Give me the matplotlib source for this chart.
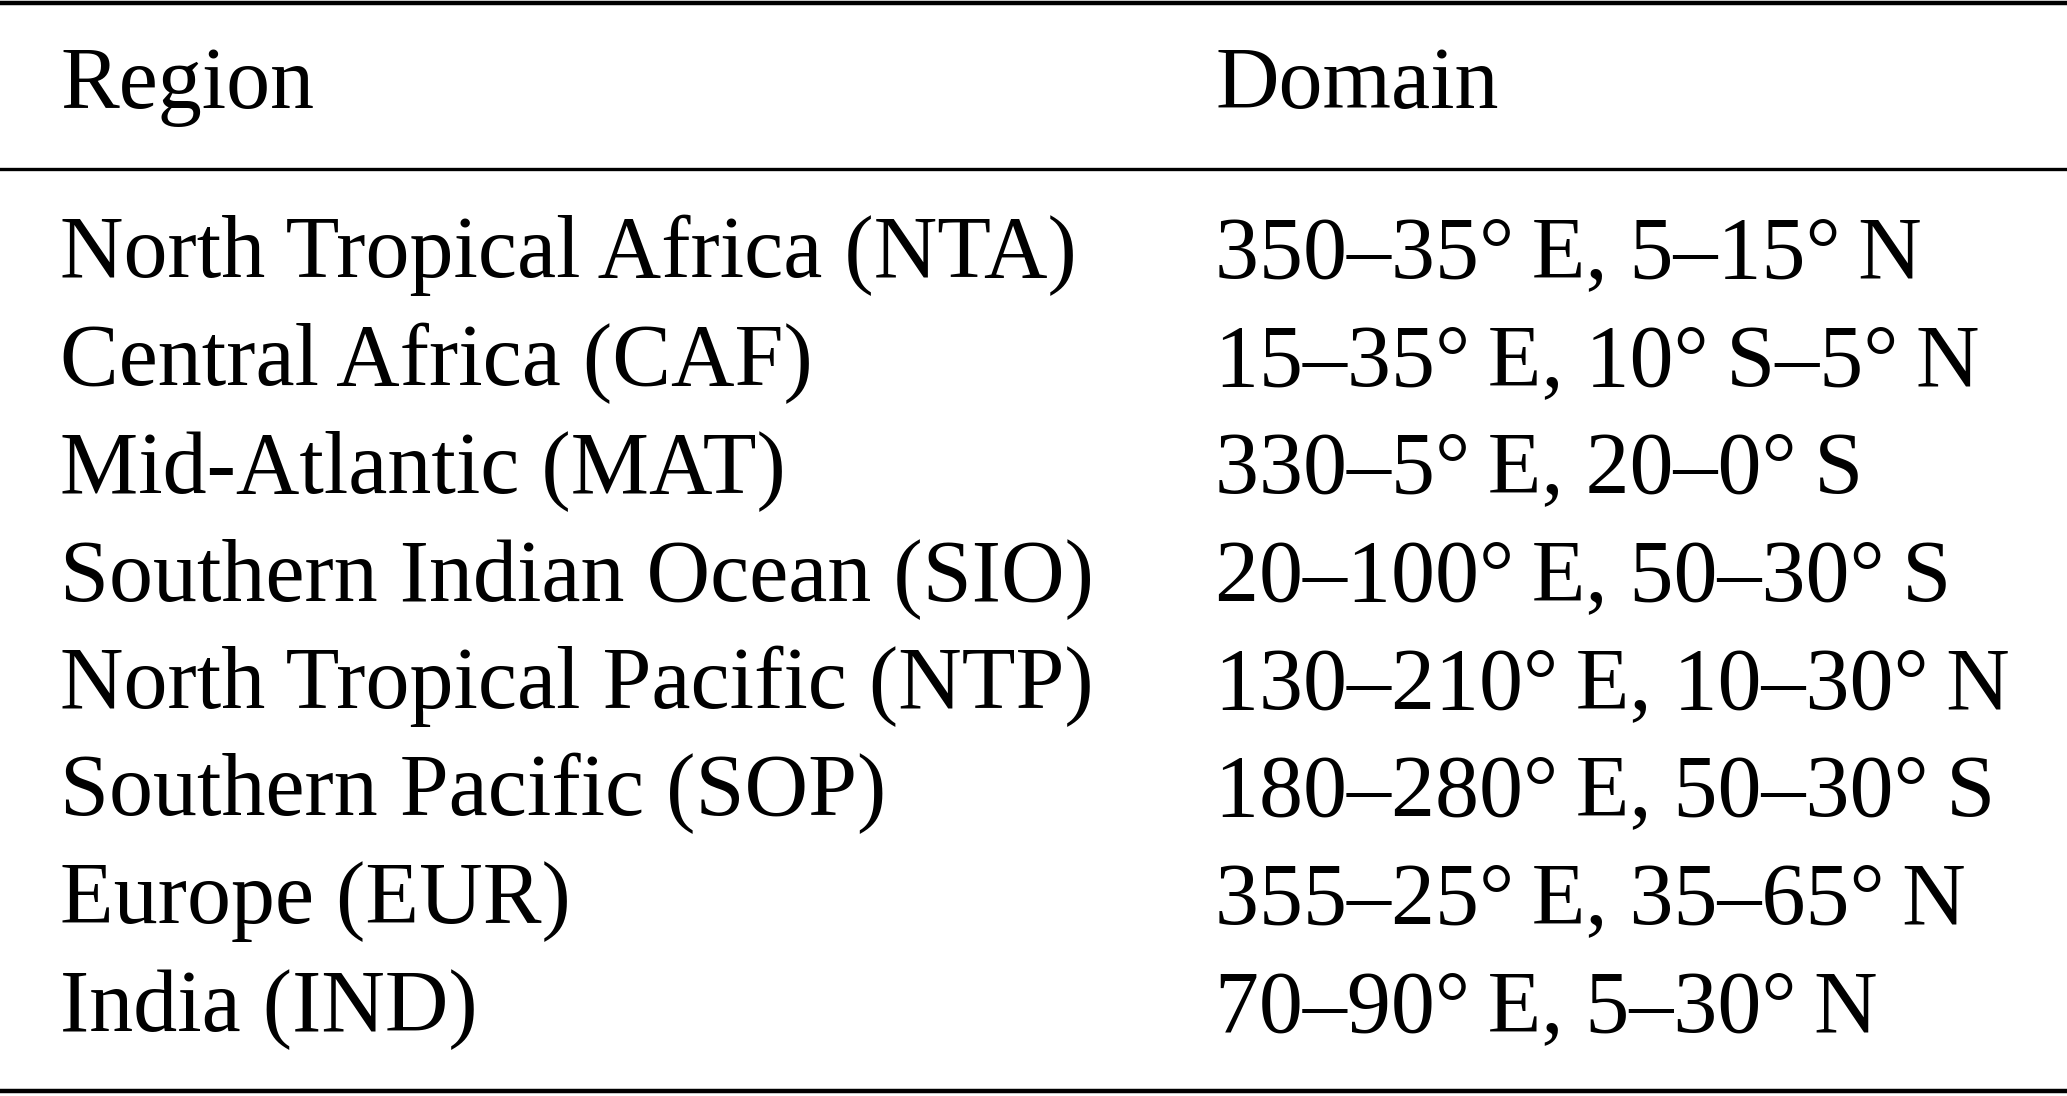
import matplotlib
matplotlib.use("Agg")
import matplotlib.pyplot as plt

# ============================================================
# Table data
# ============================================================

headers = ["Region", "Domain"]

regions = [
    "North Tropical Africa (NTA)",
    "Central Africa (CAF)",
    "Mid-Atlantic (MAT)",
    "Southern Indian Ocean (SIO)",
    "North Tropical Pacific (NTP)",
    "Southern Pacific (SOP)",
    "Europe (EUR)",
    "India (IND)",
]

domains = [
    "350\u201335\u00b0\u2009E, 5\u201315\u00b0\u2009N",
    "15\u201335\u00b0\u2009E, 10\u00b0\u2009S\u20135\u00b0\u2009N",
    "330\u20135\u00b0\u2009E, 20\u20130\u00b0\u2009S",
    "20\u2013100\u00b0\u2009E, 50\u201330\u00b0\u2009S",
    "130\u2013210\u00b0\u2009E, 10\u201330\u00b0\u2009N",
    "180\u2013280\u00b0\u2009E, 50\u201330\u00b0\u2009S",
    "355\u201325\u00b0\u2009E, 35\u201365\u00b0\u2009N",
    "70\u201390\u00b0\u2009E, 5\u201330\u00b0\u2009N",
]

# ============================================================
# Figure
# ============================================================

W, H = 2067, 1096
fig = plt.figure(figsize=(W / 100, H / 100), dpi=100)
plt.rcParams["font.family"] = ["Liberation Serif", "DejaVu Serif"]

FS = 63.4
col_x = [60 / W, 1215 / W]
header_y = 1 - 108 / H
row_top = 277
row_step = 107.7

def fy(px):
    return 1 - px / H

# rules
for y, lw in [(3, 3.2), (169, 2.4), (1091, 3.2)]:
    fig.add_artist(plt.Line2D([0, 1], [fy(y), fy(y)], color="black", lw=lw))

for x, h in zip(col_x, headers):
    fig.text(x, header_y, h, fontsize=FS, va="baseline", ha="left")

for i, (r, d) in enumerate(zip(regions, domains)):
    y = fy(row_top + i * row_step)
    fig.text(col_x[0], y, r, fontsize=FS, va="baseline", ha="left")
    fig.text(col_x[1], y, d, fontsize=FS, va="baseline", ha="left")

fig.savefig("out.png", dpi=100)
